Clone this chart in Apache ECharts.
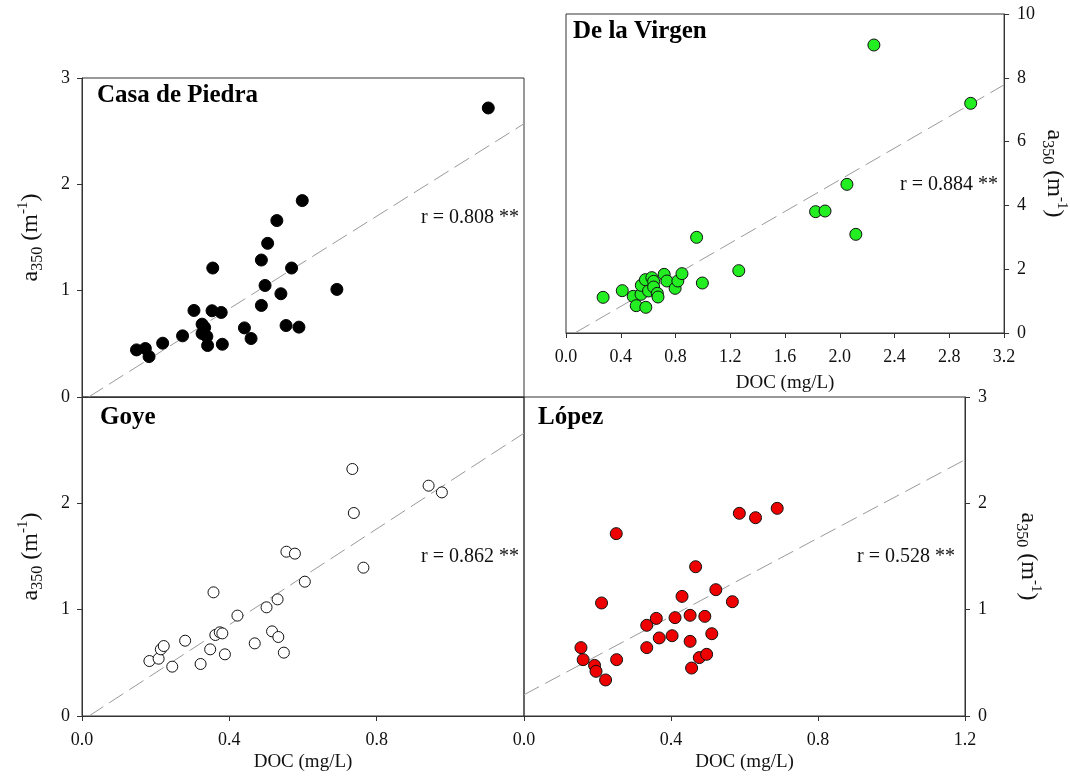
<!DOCTYPE html>
<html>
<head>
<meta charset="utf-8">
<script src="https://cdn.jsdelivr.net/npm/echarts@6/dist/echarts.min.js"></script>
<style>html,body{margin:0;padding:0;background:#fff}#c{width:1070px;height:776px}</style>
</head>
<body>
<div id="c"></div>
<script>
// ---- data (DOC mg/L, a350 m^-1) ----
var casaDOC = [0.148,0.172,0.182,0.219,0.273,0.304,0.326,0.326,0.333,0.339,0.341,0.353,0.355,0.378,0.381,0.441,0.459,0.487,0.487,0.497,0.504,0.529,0.540,0.554,0.569,0.589,0.598,0.692,1.103];
var casaA350 = [0.443,0.456,0.380,0.506,0.575,0.814,0.685,0.597,0.653,0.569,0.484,0.811,1.213,0.795,0.496,0.650,0.550,0.861,1.288,1.049,1.445,1.659,0.971,0.672,1.213,0.657,1.847,1.012,2.718];

var virgenDOC = [0.271,0.411,0.491,0.513,0.548,0.550,0.580,0.583,0.603,0.627,0.640,0.640,0.667,0.672,0.717,0.737,0.797,0.817,0.847,0.954,0.996,1.262,1.823,1.892,2.052,2.117,2.249,2.956];
var virgenA350 = [1.118,1.327,1.149,0.857,1.212,1.494,1.672,0.805,1.317,1.735,1.620,1.442,1.243,1.129,1.839,1.630,1.400,1.630,1.860,2.999,1.567,1.954,3.804,3.824,4.660,3.093,9.028,7.200];

var goyeDOC = [0.183,0.208,0.214,0.222,0.245,0.280,0.322,0.348,0.357,0.362,0.374,0.381,0.388,0.422,0.469,0.501,0.516,0.531,0.533,0.548,0.555,0.578,0.605,0.734,0.738,0.764,0.941,0.977];
var goyeA350 = [0.517,0.539,0.627,0.658,0.464,0.708,0.489,0.627,1.163,0.762,0.787,0.777,0.580,0.944,0.683,1.022,0.796,1.097,0.743,0.596,1.545,1.527,1.263,2.323,1.909,1.395,2.166,2.103];

var lopezDOC = [0.155,0.161,0.192,0.196,0.222,0.211,0.251,0.252,0.334,0.334,0.360,0.368,0.403,0.411,0.430,0.452,0.452,0.456,0.467,0.477,0.492,0.497,0.511,0.522,0.567,0.586,0.630,0.689];
var lopezA350 = [0.643,0.530,0.476,0.420,0.339,1.063,1.715,0.530,0.853,0.643,0.918,0.734,0.755,0.925,1.125,0.947,0.702,0.451,1.404,0.549,0.937,0.580,0.774,1.188,1.075,1.906,1.865,1.953];

// regression line end points [x, y]
var casaFit = [[0.018,0],[1.2,2.57]];
var virgenFit = [[0.064,0],[3.2,7.78]];
var goyeFit = [[0.019,0],[1.2,2.66]];
var lopezFit = [[0,0.20],[1.2,2.41]];

var panelNames = ['Casa de Piedra','De la Virgen','Goye','López'];
var rLabels = ['r = 0.808 **','r = 0.884 **','r = 0.862 **','r = 0.528 **'];

function zip(a,b){return a.map(function(v,i){return [v,b[i]];});}

var SERIF = '"Liberation Serif","DejaVu Serif",serif';
var AX = '#333';
var yName = '{a|a}{s|350}{a| (m}{p|-1}{a|)}';
var yNameStyle = {
  fontFamily: SERIF, color:'#111',
  rich: {
    a: {fontSize: 24, lineHeight: 30, fontFamily: SERIF, color:'#111', verticalAlign:'middle'},
    s: {fontSize: 16, lineHeight: 14, fontFamily: SERIF, color:'#111', verticalAlign:'bottom'},
    p: {fontSize: 15, lineHeight: 14, fontFamily: SERIF, color:'#111', verticalAlign:'top'}
  }
};
var labelStyle = {fontFamily: SERIF, fontSize: 18, color:'#111'};

function xAxis(gi, max, interval, showLabels, hideLast, withName, nameGap){
  return {
    type:'value', gridIndex: gi, min:0, max:max, interval:interval,
    axisLine:{show:true, onZero:false, lineStyle:{color:AX, width:1}},
    axisTick:{show:showLabels, length:5, lineStyle:{color:AX}},
    splitLine:{show:false},
    axisLabel: showLabels ? Object.assign({show:true, margin:15, showMaxLabel:!hideLast, showMinLabel:true,
      formatter:function(v){ return (Math.round(v*10)/10).toFixed(1); }}, labelStyle) : {show:false},
    name: withName ? 'DOC (mg/L)' : '',
    nameLocation:'middle', nameGap: nameGap || 37,
    nameTextStyle:{fontFamily: SERIF, fontSize: 19, color:'#111'}
  };
}
function yAxis(gi, max, interval, pos, hideLast, nameGap){
  return {
    type:'value', gridIndex: gi, min:0, max:max, interval:interval, position: pos,
    axisLine:{show:true, onZero:false, lineStyle:{color:AX, width:1}},
    axisTick:{show:true, length:5, lineStyle:{color:AX}},
    splitLine:{show:false},
    axisLabel: Object.assign({show:true, margin: pos === 'left' ? 12 : 13, showMaxLabel:!hideLast, showMinLabel:true}, labelStyle),
    name: yName, nameLocation:'middle', nameGap: nameGap,
    nameRotate: pos === 'left' ? 90 : -90,
    nameTextStyle: yNameStyle
  };
}

var grids = [
  {left:82, top:78, width:442, height:319},
  {left:566, top:14, width:441, height:319},
  {left:82, top:397, width:442, height:319},
  {left:524, top:397, width:441, height:319}
].map(function(g){ return Object.assign({show:true, borderColor:AX, borderWidth:1, backgroundColor:'transparent', containLabel:false}, g); });

function fitSeries(i, data){
  return {type:'line', xAxisIndex:i, yAxisIndex:i, data:data, symbol:'none', silent:true, z:1,
    lineStyle:{color:'#9a9a9a', width:1, type:[17,7]}};
}
function dotSeries(i, data, fill, border, size){
  return {type:'scatter', xAxisIndex:i, yAxisIndex:i, data:data, symbol:'circle', symbolSize:size, z:3,
    itemStyle:{color:fill, borderColor:border, borderWidth:1, opacity:1}};
}

var textPos = [
  {title:[97,97], r:[519,218]},
  {title:[573,33], r:[998,185]},
  {title:[100,419], r:[519,557]},
  {title:[538,419], r:[955,557]}
];
var graphics = [];
textPos.forEach(function(p,i){
  graphics.push({type:'text', left:p.title[0], top:p.title[1]-14, z:10,
    style:{text:panelNames[i], fontFamily:SERIF, fontWeight:'bold', fontSize:25, fill:'#000'}});
  graphics.push({type:'text', x:p.r[0], y:p.r[1], z:10,
    style:{text:rLabels[i], fontFamily:SERIF, fontSize:20, fill:'#111', align:'right', verticalAlign:'middle'}});
});

var option = {
  animation:false,
  backgroundColor:'#fff',
  grid: grids,
  xAxis: [
    xAxis(0, 1.2, 0.4, false, false, false),
    xAxis(1, 3.2, 0.4, true, false, true, 41),
    xAxis(2, 1.2, 0.4, true, true, true, 37),
    xAxis(3, 1.2, 0.4, true, false, true, 37)
  ],
  yAxis: [
    yAxis(0, 3, 1, 'left', false, 36),
    yAxis(1, 10, 2, 'right', false, 30),
    yAxis(2, 3, 1, 'left', true, 36),
    yAxis(3, 3, 1, 'right', false, 48)
  ],
  graphic: graphics,
  series: [
    fitSeries(0, casaFit), dotSeries(0, zip(casaDOC, casaA350), '#000', '#000', 12),
    fitSeries(1, virgenFit), dotSeries(1, zip(virgenDOC, virgenA350), '#22ee22', '#111', 12),
    fitSeries(2, goyeFit), dotSeries(2, zip(goyeDOC, goyeA350), '#fff', '#111', 11),
    fitSeries(3, lopezFit), dotSeries(3, zip(lopezDOC, lopezA350), '#ee0000', '#111', 12)
  ]
};
var chart = echarts.init(document.getElementById('c'), null, {renderer:'canvas'});
chart.setOption(option);
</script>
</body>
</html>
